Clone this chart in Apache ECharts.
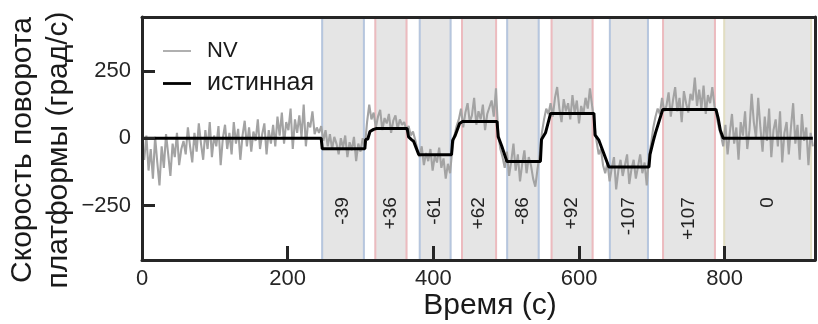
<!DOCTYPE html>
<html>
<head>
<meta charset="utf-8">
<script src="https://cdn.jsdelivr.net/npm/echarts@6/dist/echarts.min.js"></script>
<style>
html,body{margin:0;padding:0;background:#fff;}
#chart{width:818px;height:324px;}
</style>
</head>
<body>
<div id="chart"></div>
<script>
// ---- data ----
const xTickValues = [0, 200, 400, 600, 800];
const yTickValues = [-250, 0, 250];

// shaded stimulus intervals (s) and their labels
const bandStart = [246, 319, 380, 438, 500, 561, 641, 714, 798];
const bandEnd   = [306, 364.5, 425, 487.5, 546, 620, 696, 788, 920];
const bandLabel = ['-39', '+36', '-61', '+62', '-86', '+92', '-107', '+107', '0'];
const bandKind  = ['neg', 'pos', 'neg', 'pos', 'neg', 'pos', 'neg', 'pos', 'zero'];

// true platform rotation speed (deg/s)
const trueT = [0, 246, 247.5, 306, 307, 310, 313, 318, 322, 364, 366, 370, 373, 380, 425, 426.5, 430, 436, 440, 487.5,
               489, 494, 501, 547, 548.5, 554, 561, 620.5, 622, 627, 641, 696, 697.5, 702, 705, 715, 788, 791, 794, 798, 921];
const trueV = [0, 0, -39, -39, -5, -3, 25, 33, 36, 36, 5, -5, -12, -61, -61, -8, 10, 55, 62, 62,
               6, -30, -86, -86, -5, 20, 92, 92, 12, -6, -107, -107, -60, -10, 20, 107, 107, 75, 30, 0, 0];

// NV estimate, sampled every 3 s starting at t = 0
const nvT0 = 0;
const nvDt = 3;
const nvValues = [
  -20, -80, 10, -120, -40, -150, 5, -90, -175, -30, -110, 15, -60, -140, -20, -70, 20, -100, -40, -10,   // t=0
  -60, 40, -30, -90, 20, -50, 55, -20, -80, 30, -40, 60, -70, 10, -30, 45, -100, 0, 50, -40,           // t=60
  20, -60, 60, -20, 35, -80, 10, 65, -30, 40, -50, 25, -10, 70, -40, 15, 55, -60, 30, -20,             // t=120
  50, -30, 80, 10, 95, -20, 60, 30, 110, -40, 70, 20, 85, 5, 125, -30, 60, 40, 100, 15,                // t=180
  40, 20, 45, -10, 30, -30, 15, -40, 5, -20, -60, 0, -35, 10, -70, -15, -45, 5, -85, -20,              // t=240
  -50, 0, -30, 60, 125, 70, 95, 40, 80, 105, 30, 75, 55, 90, 20, 65, 85, 35, 70, 50,                   // t=300
  60, 30, 45, 10, 25, -5, -40, -70, -30, -100, -55, -85, -40, -120, -65, -90, -35, -110, -75, -150,    // t=360
  -95, -130, -40, 10, 45, 70, 110, 40, 95, 130, 60, 85, 150, 50, 100, 70, 125, 30, 90, 115,            // t=420
  140, 80, 185, 20, -40, -70, -110, -50, -140, -85, -20, -120, -60, -160, -95, -45, -130, -70, -100, -150, // t=480
  -180, -115, -60, 20, 70, 110, 90, 130, 80, 150, 190, 110, 60, 145, 100, 130, 70, 160, 95, 140,       // t=540
  55, 120, 90, 150, 110, 185, 120, 60, -10, -60, -40, -100, -130, -90, -160, -110, -70, -190, -120, -80, // t=600
  -140, -100, -60, -170, -115, -80, -150, -105, -60, -130, -90, -175, -70, -20, 40, 80, 110, 90, 150, 100, // t=660
  120, 170, 80, 140, 190, 100, 150, 60, 175, 130, 95, 165, 140, 225, 120, 180, 110, 195, 90, 160,      // t=720
  130, 190, 120, 80, 40, 10, -30, 50, -60, 20, 90, -20, 40, -80, 60, 10, 100, -40, 30, 165,            // t=780
  60, 0, 150, 40, -50, 80, -10, 110, -70, 30, 70, -30, 100, -90, 20, 60, -60, 40, 130, -20,            // t=840
  50, -80, 90, -10, 40, -100, 20, -30                                                                  // t=900
];

const X_MIN = 0, X_MAX = 924, Y_MIN = -452, Y_MAX = 450;
const LABEL_Y = -219;

const FONT = "'Liberation Sans', Arial, sans-serif";
const TXT = '#262626';
const edgeColor = { neg: 'rgba(170,190,220,0.8)', pos: 'rgba(240,165,170,0.65)', zero: 'rgba(225,220,180,0.7)' };

const nvData = nvValues.map((v, i) => [nvT0 + i * nvDt, v]);
const trueData = trueT.map((t, i) => [t, trueV[i]]);
const bandData = bandStart.map((s, i) => [s, bandEnd[i], i]);

const chart = echarts.init(document.getElementById('chart'), null, { renderer: 'canvas' });

const axisCommon = { min: X_MIN, max: X_MAX };
const option = {
  backgroundColor: '#ffffff',
  animation: false,
  textStyle: { fontFamily: FONT },
  grid: { left: 142, right: 3, top: 17, bottom: 64, show: false },
  legend: {
    left: 158, top: 35, orient: 'vertical',
    itemWidth: 28, itemHeight: 24, itemGap: 9,
    formatter: name => (name === 'NV' ? '{a|NV}' : '{b|' + name + '}'),
    textStyle: {
      fontFamily: FONT, color: '#1a1a1a', padding: [0, 0, 0, 11],
      rich: {
        a: { fontFamily: FONT, fontSize: 22, color: '#1a1a1a' },
        b: { fontFamily: FONT, fontSize: 25, color: '#1a1a1a' }
      }
    },
    data: [
      { name: 'NV', icon: 'path://M0,0 L30,0 L30,2 L0,2 Z', itemStyle: { color: '#ababab' } },
      { name: 'истинная', icon: 'path://M0,0 L30,0 L30,3 L0,3 Z', itemStyle: { color: '#000' } }
    ]
  },
  xAxis: [
    {
      type: 'value', ...axisCommon, interval: 200, position: 'bottom', z: 10,
      splitLine: { show: false },
      axisLine: { show: true, onZero: false, lineStyle: { color: TXT, width: 3 } },
      axisTick: { show: true, inside: true, length: 14, customValues: xTickValues, lineStyle: { color: TXT, width: 3 } },
      axisLabel: { show: true, customValues: xTickValues, margin: 8, fontSize: 22, color: TXT, fontFamily: FONT }
    },
    {
      type: 'value', ...axisCommon, position: 'top', z: 10,
      splitLine: { show: false },
      axisLine: { show: true, onZero: false, lineStyle: { color: TXT, width: 3 } },
      axisTick: { show: false }, axisLabel: { show: false }
    }
  ],
  yAxis: [
    {
      type: 'value', min: Y_MIN, max: Y_MAX, position: 'left', z: 10,
      splitLine: { show: false },
      axisLine: { show: true, onZero: false, lineStyle: { color: TXT, width: 3 } },
      axisTick: { show: true, inside: true, length: 13, customValues: yTickValues, lineStyle: { color: TXT, width: 3 } },
      axisLabel: {
        show: true, customValues: yTickValues, margin: 11, fontSize: 22, color: TXT, fontFamily: FONT,
        formatter: v => (v < 0 ? '\u2212' + Math.abs(v) : String(v))
      }
    },
    {
      type: 'value', min: Y_MIN, max: Y_MAX, position: 'right', z: 10,
      splitLine: { show: false },
      axisLine: { show: true, onZero: false, lineStyle: { color: TXT, width: 3 } },
      axisTick: { show: false }, axisLabel: { show: false }
    }
  ],
  graphic: [
    {
      type: 'text', x: 41, y: 150, rotation: Math.PI / 2, z: 20,
      style: {
        text: 'Скорость поворота\nплатформы (град/с)',
        font: "30px 'Liberation Sans', Arial, sans-serif", fill: '#1a1a1a',
        align: 'center', verticalAlign: 'middle', lineHeight: 36
      }
    },
    {
      type: 'text', x: 490, y: 306, z: 20,
      style: {
        text: 'Время (с)',
        font: "30px 'Liberation Sans', Arial, sans-serif", fill: '#1a1a1a',
        align: 'center', verticalAlign: 'middle'
      }
    }
  ],
  series: [
    {
      name: 'bands', type: 'custom', clip: true, z: 1, silent: true,
      data: bandData,
      renderItem: function (params, api) {
        const s = api.value(0), e = api.value(1), idx = api.value(2);
        const p0 = api.coord([s, Y_MAX]);
        const p1 = api.coord([e, Y_MIN]);
        const ly = api.coord([(s + e) / 2, LABEL_Y]);
        const col = edgeColor[bandKind[idx]];
        return {
          type: 'group',
          children: [
            { type: 'rect', shape: { x: p0[0], y: p0[1], width: p1[0] - p0[0], height: p1[1] - p0[1] },
              style: { fill: '#e5e5e5' } },
            { type: 'line', shape: { x1: p0[0] + 1, y1: p0[1], x2: p0[0] + 1, y2: p1[1] },
              style: { stroke: col, lineWidth: 2 } },
            { type: 'line', shape: { x1: p1[0] - 1, y1: p0[1], x2: p1[0] - 1, y2: p1[1] },
              style: { stroke: col, lineWidth: 2 } },
            { type: 'text', x: ly[0], y: ly[1], rotation: Math.PI / 2,
              style: { text: bandLabel[idx], font: "19px 'Liberation Sans', Arial, sans-serif", fill: '#222',
                       align: 'right', verticalAlign: 'middle' } }
          ]
        };
      }
    },
    {
      name: 'NV', type: 'line', data: nvData, symbol: 'none', z: 3,
      lineStyle: { color: '#a3a3a3', width: 2.1 }, itemStyle: { color: '#ababab' }
    },
    {
      name: 'истинная', type: 'line', data: trueData, symbol: 'none', z: 4,
      lineStyle: { color: '#000', width: 3 }, itemStyle: { color: '#000' }
    }
  ]
};
chart.setOption(option);
</script>
</body>
</html>
